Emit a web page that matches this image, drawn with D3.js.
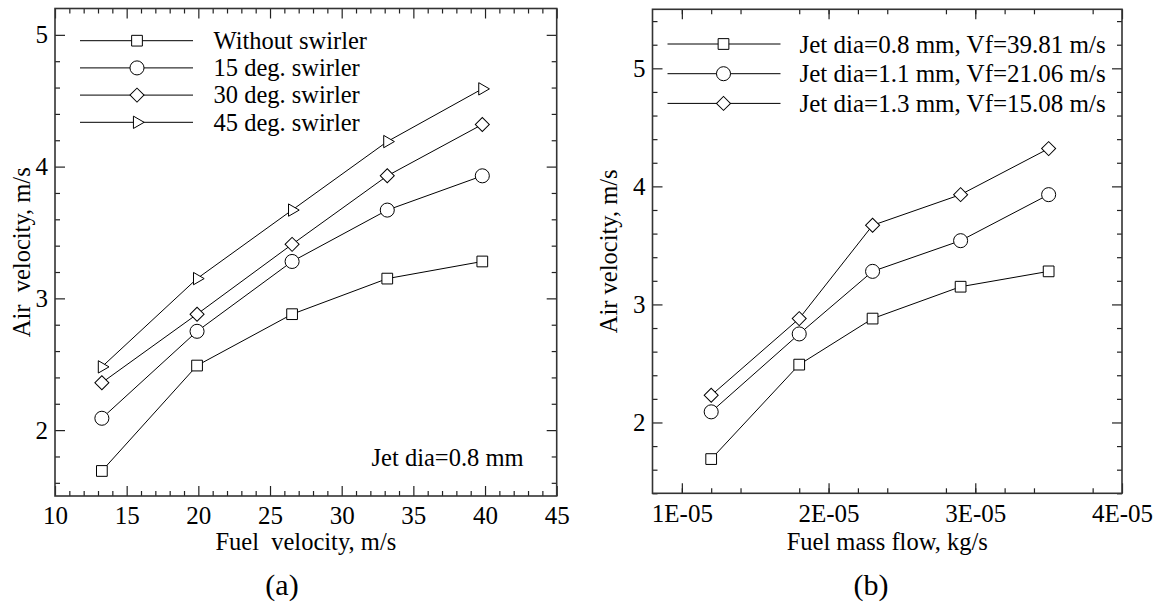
<!DOCTYPE html>
<html>
<head>
<meta charset="utf-8">
<script src="https://cdn.jsdelivr.net/npm/d3@7"></script>
<style>
  body { margin: 0; background: #fff; }
  svg { display: block; }
  svg text { font-family: "Liberation Serif", "Times New Roman", Times, serif !important; fill: #000; }
</style>
</head>
<body>
<svg></svg>
<script>
// Panel (a): air velocity vs fuel velocity
const fuelVelocity = [13.27, 19.91, 26.54, 33.18, 39.81];
const withoutSwirler = [1.69, 2.49, 2.88, 3.15, 3.28];
const swirler15 = [2.09, 2.75, 3.28, 3.67, 3.93];
const swirler30 = [2.36, 2.88, 3.41, 3.93, 4.32];
const swirler45 = [2.48, 3.15, 3.67, 4.19, 4.59];
const seriesA = ["Without swirler", "15 deg. swirler", "30 deg. swirler", "45 deg. swirler"];

// Panel (b): air velocity vs fuel mass flow
const fuelMassFlow = [1.2e-5, 1.8e-5, 2.3e-5, 2.9e-5, 3.5e-5];
const jetDia08 = [1.69, 2.49, 2.88, 3.15, 3.28];
const jetDia11 = [2.09, 2.75, 3.28, 3.54, 3.93];
const jetDia13 = [2.23, 2.88, 3.67, 3.93, 4.32];
const seriesB = ["Jet dia=0.8 mm, Vf=39.81 m/s", "Jet dia=1.1 mm, Vf=21.06 m/s", "Jet dia=1.3 mm, Vf=15.08 m/s"];

// Tick values and labels
const xTicksA = [10, 15, 20, 25, 30, 35, 40, 45];
const xTickLabelsA = ["10", "15", "20", "25", "30", "35", "40", "45"];
const yTicksA = [2, 3, 4, 5];
const xTicksB = [1e-5, 2e-5, 3e-5, 4e-5];
const xTickLabelsB = ["1E-05", "2E-05", "3E-05", "4E-05"];
const yTicksB = [2, 3, 4, 5];

const FONT = '"Liberation Serif", "Times New Roman", serif';

const svg = d3.select("svg")
    .attr("width", 1157)
    .attr("height", 604);

svg.append("rect").attr("width", 1157).attr("height", 604).attr("fill", "#fff");

// marker shapes by series index: square, circle, diamond, right triangle
const markerPath = [
    d3.symbol().type(d3.symbolSquare).size(115)(),
    d3.symbol().type(d3.symbolCircle).size(155)(),
    d3.symbol().type(d3.symbolSquare).size(98)(),
    d3.symbol().type(d3.symbolTriangle).size(66)()
];
const markerRotate = [0, 0, 45, 90];

function drawPanel(p) {
    const w = p.x1 - p.x0, h = p.y1 - p.y0;
    const g = svg.append("g").attr("transform", `translate(${p.x0},${p.y0})`);

    const x = d3.scaleLinear().domain(p.xDomain).range([0, w]);
    const y = d3.scaleLinear().domain(p.yDomain).range([h, 0]);

    const fmtX = d => p.xLabels[p.xTicks.findIndex(t => Math.abs(t - d) < 1e-12)];

    // major ticks on all four sides pointing inward, then minor ticks
    const axes = [
        { a: d3.axisBottom(x).tickValues(p.xTicks).tickFormat(fmtX).tickPadding(p.xPad), t: `translate(0,${h})` },
        { a: d3.axisTop(x).tickValues(p.xTicks).tickFormat(""), t: "translate(0,0)" },
        { a: d3.axisLeft(y).tickValues(p.yTicks).tickFormat(d3.format("d")).tickPadding(7), t: "translate(0,0)" },
        { a: d3.axisRight(y).tickValues(p.yTicks).tickFormat(""), t: `translate(${w},0)` },
        { a: d3.axisBottom(x).tickValues(p.xMinor).tickFormat("").tickSize(-5), t: `translate(0,${h})` },
        { a: d3.axisTop(x).tickValues(p.xMinor).tickFormat("").tickSize(-5), t: "translate(0,0)" },
        { a: d3.axisLeft(y).tickValues(p.yMinor).tickFormat("").tickSize(-5), t: "translate(0,0)" },
        { a: d3.axisRight(y).tickValues(p.yMinor).tickFormat("").tickSize(-5), t: `translate(${w},0)` }
    ];
    axes.forEach((ax, i) => {
        if (i < 4) ax.a.tickSize(-10);
        const ag = g.append("g")
            .attr("transform", ax.t)
            .attr("color", "#222")
            .call(ax.a);
        ag.select(".domain").remove();
        ag.selectAll("line").attr("stroke-width", 1.2);
        ag.attr("font-family", FONT).attr("font-size", 25);
        ag.selectAll("text").attr("fill", "#000");
    });

    // frame
    g.append("rect")
        .attr("width", w).attr("height", h)
        .attr("fill", "none")
        .attr("stroke", "#333")
        .attr("stroke-width", 1.6);

    const line = d3.line().x(d => x(d[0])).y(d => y(d[1]));

    p.series.forEach((vals, i) => {
        const pts = p.xValues.map((v, k) => [v, vals[k]]);
        g.append("path")
            .attr("d", line(pts))
            .attr("fill", "none")
            .attr("stroke", "#000")
            .attr("stroke-width", 1);
        g.selectAll(null)
            .data(pts)
            .enter().append("path")
            .attr("d", markerPath[i])
            .attr("transform", d => `translate(${x(d[0])},${y(d[1])}) rotate(${markerRotate[i]})`)
            .attr("fill", "#fff")
            .attr("stroke", "#000")
            .attr("stroke-width", 1);
    });

    // legend
    const rows = svg.append("g")
        .attr("font-family", FONT)
        .selectAll("g")
        .data(p.names)
        .enter().append("g")
        .attr("transform", (d, i) => `translate(0,${p.legY + i * p.legStep})`);
    rows.append("line")
        .attr("x1", p.legX0).attr("x2", p.legX1)
        .attr("stroke", "#000").attr("stroke-width", 1);
    rows.append("path")
        .attr("d", (d, i) => markerPath[i])
        .attr("transform", (d, i) => `translate(${p.legMark},0) rotate(${markerRotate[i]})`)
        .attr("fill", "#fff")
        .attr("stroke", "#000");
    rows.append("text")
        .attr("x", p.legText)
        .attr("y", p.legFont * 0.34)
        .attr("font-size", p.legFont)
        .text(d => d);

    // axis titles and panel tag
    const titles = svg.append("g").attr("font-family", FONT);
    titles.append("text")
        .attr("x", (p.x0 + p.x1) / 2)
        .attr("y", 550)
        .attr("text-anchor", "middle")
        .attr("font-size", 24.5)
        .style("white-space", "pre")
        .text(p.xTitle);
    titles.append("text")
        .attr("transform", `translate(${p.yTitleX},${(p.y0 + p.y1) / 2}) rotate(-90)`)
        .attr("text-anchor", "middle")
        .attr("font-size", 24.5)
        .style("white-space", "pre")
        .text(p.yTitle);
    titles.append("text")
        .attr("x", p.tagX)
        .attr("y", 595)
        .attr("text-anchor", "middle")
        .attr("font-size", 30)
        .text(p.tag);

    return { x, y };
}

drawPanel({
    x0: 55, x1: 556.7, y0: 8.5, y1: 496,
    xDomain: [10, 45], yDomain: [1.5, 5.2],
    xTicks: xTicksA, xLabels: xTickLabelsA, yTicks: yTicksA,
    xMinor: d3.range(11, 45, 1).filter(v => v % 5 !== 0),
    yMinor: d3.range(1.6, 5.2, 0.2).filter(v => Math.abs(v - Math.round(v)) > 0.01),
    xPad: 10,
    xValues: fuelVelocity,
    series: [withoutSwirler, swirler15, swirler30, swirler45],
    names: seriesA,
    legX0: 80, legX1: 193, legMark: 137, legText: 213.5,
    legY: 40.7, legStep: 27.2, legFont: 24.5,
    xTitle: "Fuel  velocity, m/s",
    yTitle: "Air  velocity, m/s",
    yTitleX: 30,
    tag: "(a)", tagX: 282
});

svg.append("text")
    .attr("x", 523.5)
    .attr("y", 466)
    .attr("text-anchor", "end")
    .attr("font-family", FONT)
    .attr("font-size", 24.5)
    .text("Jet dia=0.8 mm");

drawPanel({
    x0: 652.5, x1: 1122, y0: 9.3, y1: 493.3,
    xDomain: [0.8e-5, 4e-5], yDomain: [1.4, 5.5],
    xTicks: xTicksB, xLabels: xTickLabelsB, yTicks: yTicksB,
    xMinor: d3.range(1, 16).map(k => 0.8e-5 + k * 0.2e-5).filter((v, k) => (k + 2) % 5 !== 0),
    yMinor: d3.range(1.4, 5.5, 0.2).filter(v => Math.abs(v - Math.round(v)) > 0.01),
    xPad: 11,
    xValues: fuelMassFlow,
    series: [jetDia08, jetDia11, jetDia13],
    names: seriesB,
    legX0: 667.5, legX1: 780.5, legMark: 723.5, legText: 799.5,
    legY: 44, legStep: 29.7, legFont: 25,
    xTitle: "Fuel mass flow, kg/s",
    yTitle: "Air velocity, m/s",
    yTitleX: 617,
    tag: "(b)", tagX: 871
});
</script>
</body>
</html>
